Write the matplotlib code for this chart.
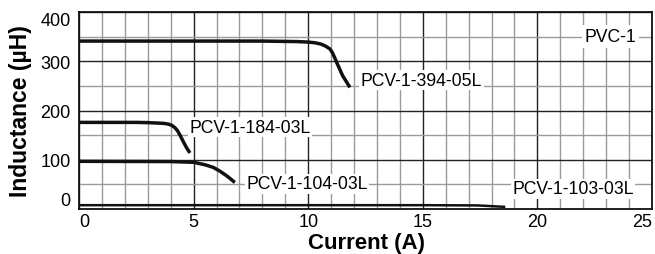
"""Inductance vs. current curves for the PCV-1 inductor family."""

import matplotlib

matplotlib.use("Agg")
from matplotlib import pyplot as plt
from matplotlib.ticker import MultipleLocator

plt.rcParams["font.family"] = ["Liberation Sans", "DejaVu Sans"]

# ========== Data ==========

x_394 = [0, 8.0, 9.5, 10.0, 10.3, 10.55, 10.75, 10.95, 11.05, 11.15, 11.25, 11.5, 11.82]
y_394 = [341, 341, 340, 339, 337.5, 335, 331, 325, 318, 308, 297, 271, 247]

x_184 = [0, 2.5, 3.0, 3.5, 3.7, 3.9, 4.05, 4.18, 4.3, 4.42, 4.55, 4.7, 4.84]
y_184 = [176, 176, 175.5, 174.5, 174, 172.5, 170, 165.5, 159, 149, 137, 124, 114]

x_104 = [0, 4.0, 5.0, 5.5, 5.86, 6.15, 6.44, 6.65, 6.8]
y_104 = [97, 96.5, 95, 90, 84.6, 77, 67.7, 60, 54]

x_103 = [0, 15.0, 17.4, 18.0, 18.6]
y_103 = [8, 8, 7.5, 6, 4.5]

curve_labels = ["PCV-1-394-05L", "PCV-1-184-03L", "PCV-1-104-03L", "PCV-1-103-03L"]
label_pos = [(12.3, 262), (4.8, 166), (7.3, 51), (18.9, 41)]

x_ticks = [0, 5, 10, 15, 20, 25]
y_ticks = [0, 100, 200, 300, 400]

# ========== Figure ==========

fig = plt.figure(figsize=(6.55, 2.55), dpi=100)
ax = fig.add_axes([0.1206, 0.176, 0.8748, 0.773])

ax.set_xlim(0, 25)
ax.set_ylim(0, 400)
ax.set_xticks(x_ticks)
ax.set_yticks(y_ticks)
ax.xaxis.set_minor_locator(MultipleLocator(1))
ax.yaxis.set_minor_locator(MultipleLocator(50))

ax.grid(which="minor", color="#9a9a9a", linewidth=1.0)
ax.grid(which="major", color="#222222", linewidth=1.0)
ax.set_axisbelow(True)
ax.tick_params(which="both", length=0, labelsize=13)
ax.tick_params(axis="x", pad=3)
ax.tick_params(axis="y", pad=6)

# keep the edge tick labels inside the frame, like the datasheet plot
xl = ax.get_xticklabels()
xl[0].set_horizontalalignment("left")
xl[-1].set_horizontalalignment("right")
yl = ax.get_yticklabels()
yl[0].set_verticalalignment("bottom")
yl[-1].set_verticalalignment("top")

for s in ax.spines.values():
    s.set_linewidth(1.3)
    s.set_color("#111111")

for xs, ys in [(x_394, y_394), (x_184, y_184), (x_104, y_104)]:
    ax.plot(xs, ys, color="#111111", linewidth=2.5, solid_capstyle="butt",
            solid_joinstyle="round")
ax.plot(x_103, y_103, color="#111111", linewidth=1.8, solid_capstyle="butt")

for text, (tx, ty) in zip(curve_labels, label_pos):
    ax.text(tx, ty, text, fontsize=12.7, va="center", ha="left",
            bbox=dict(facecolor="white", edgecolor="none", pad=1.0))

ax.text(23.2, 350, "PVC-1", fontsize=12.7, va="center", ha="center",
        bbox=dict(facecolor="white", edgecolor="none", pad=2.0))

fig.text(0.56, 0.047, "Current (A)", fontsize=16, fontweight="bold",
         ha="center", va="center")
fig.text(0.032, 0.563, "Inductance (µH)", fontsize=16.5, fontweight="bold",
         ha="center", va="center", rotation=90)

fig.savefig("out.png", dpi=100)
plt.close(fig)
